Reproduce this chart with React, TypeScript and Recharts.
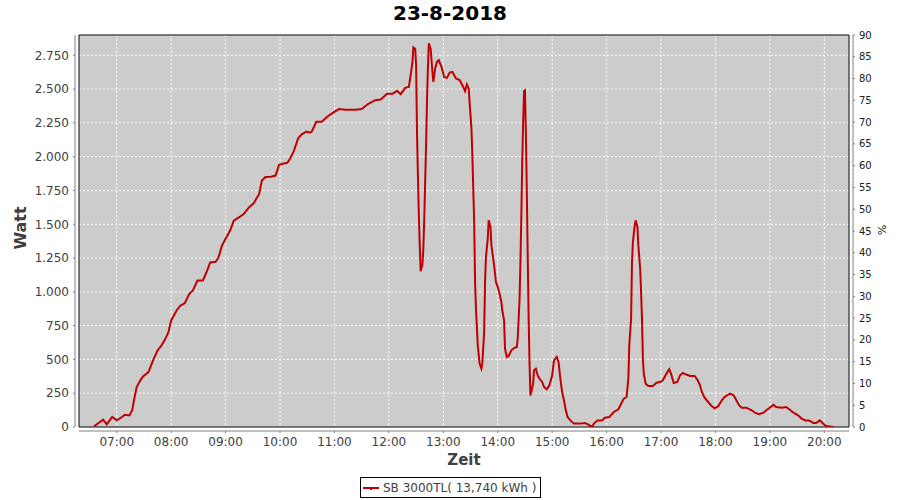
import { LineChart, Line, XAxis, YAxis, CartesianGrid, ReferenceArea } from 'recharts'

// readings of the day, HH:MM and Watt
const times = [
  '06:35', '06:40', '06:45', '06:49', '06:55', '07:00', '07:05', '07:09', '07:14', '07:17',
  '07:19', '07:22', '07:26', '07:29', '07:35', '07:40', '07:45', '07:49', '07:53', '07:57',
  '08:00', '08:06', '08:10', '08:15', '08:20', '08:24', '08:29', '08:35', '08:40', '08:43',
  '08:49', '08:52', '08:56', '09:00', '09:05', '09:09', '09:15', '09:20', '09:26', '09:31',
  '09:37', '09:40', '09:44', '09:50', '09:55', '09:59', '10:03', '10:08', '10:11', '10:15',
  '10:20', '10:24', '10:29', '10:33', '10:35', '10:40', '10:46', '10:52', '10:59', '11:05',
  '11:12', '11:23', '11:30', '11:37', '11:45', '11:51', '11:58', '12:04', '12:09', '12:13',
  '12:18', '12:22', '12:24', '12:26', '12:27', '12:29', '12:30', '12:31', '12:32', '12:33',
  '12:34', '12:35', '12:37', '12:38', '12:39', '12:40', '12:41', '12:42', '12:43', '12:44',
  '12:46', '12:47', '12:48', '12:49', '12:51', '12:53', '12:55', '12:58', '13:01', '13:04',
  '13:07', '13:10', '13:14', '13:18', '13:22', '13:24', '13:26', '13:28', '13:29', '13:31',
  '13:32', '13:33', '13:34', '13:35', '13:36', '13:38', '13:40', '13:42', '13:43', '13:45',
  '13:46', '13:47', '13:49', '13:50', '13:52', '13:53', '13:56', '13:58', '14:00', '14:02',
  '14:04', '14:05', '14:07', '14:08', '14:10', '14:12', '14:15', '14:18', '14:21', '14:22',
  '14:24', '14:25', '14:26', '14:27', '14:28', '14:29', '14:30', '14:31', '14:32', '14:33',
  '14:34', '14:35', '14:36', '14:37', '14:39', '14:40', '14:42', '14:44', '14:46', '14:49',
  '14:51', '14:54', '14:57', '15:00', '15:02', '15:05', '15:07', '15:09', '15:11', '15:13',
  '15:15', '15:17', '15:20', '15:24', '15:31', '15:36', '15:40', '15:44', '15:46', '15:50',
  '15:55', '15:58', '16:03', '16:08', '16:13', '16:17', '16:19', '16:22', '16:24', '16:25',
  '16:27', '16:28', '16:29', '16:31', '16:32', '16:34', '16:35', '16:37', '16:38', '16:39',
  '16:40', '16:41', '16:43', '16:46', '16:51', '16:55', '16:59', '17:02', '17:06', '17:09',
  '17:11', '17:14', '17:18', '17:21', '17:24', '17:27', '17:32', '17:37', '17:40', '17:43',
  '17:45', '17:48', '17:52', '17:56', '17:59', '18:03', '18:07', '18:10', '18:16', '18:20',
  '18:23', '18:26', '18:29', '18:34', '18:40', '18:44', '18:48', '18:53', '18:56', '19:01',
  '19:04', '19:07', '19:13', '19:18', '19:22', '19:26', '19:31', '19:35', '19:39', '19:43',
  '19:48', '19:51', '19:55', '19:58', '20:01', '20:04', '20:10',
]

const watts = [
  5, 30, 54, 20, 74, 50, 70, 91, 86, 123,
  197, 296, 345, 374, 406, 493, 566, 600, 645, 702,
  788, 862, 897, 916, 985, 1010, 1084, 1084, 1163, 1217,
  1222, 1251, 1342, 1392, 1453, 1527, 1552, 1576, 1626, 1655,
  1724, 1823, 1850, 1852, 1860, 1940, 1948, 1955, 1985, 2037,
  2136, 2165, 2185, 2177, 2185, 2258, 2258, 2295, 2327, 2352,
  2347, 2347, 2352, 2389, 2418, 2423, 2465, 2465, 2487, 2462,
  2509, 2516, 2603, 2701, 2809, 2799, 2676, 2172, 1865, 1570,
  1349, 1152, 1201, 1324, 1546, 1816, 2086, 2406, 2652, 2838,
  2799, 2713, 2627, 2553, 2652, 2701, 2713, 2664, 2590, 2583,
  2622, 2627, 2578, 2566, 2516, 2484, 2534, 2504, 2400, 2209,
  2013, 1767, 1521, 1073, 875, 604, 469, 432, 469, 703,
  1073, 1258, 1393, 1529, 1480, 1344, 1196, 1073, 1036, 986,
  925, 863, 789, 580, 518, 525, 567, 584, 592, 653,
  937, 1221, 1566, 1960, 2256, 2486, 2491, 2182, 1763, 1282,
  826, 481, 234, 259, 321, 419, 432, 382, 358, 333,
  296, 279, 308, 382, 493, 518, 481, 358, 259, 197,
  123, 74, 49, 25, 25, 30, 17, 0, 25, 49,
  49, 69, 74, 111, 131, 185, 210, 222, 358, 604,
  801, 1221, 1369, 1492, 1529, 1480, 1344, 1171, 999, 801,
  505, 395, 321, 303, 303, 328, 333, 346, 395, 427,
  395, 326, 333, 383, 400, 390, 378, 378, 351, 309,
  259, 217, 185, 153, 138, 153, 198, 222, 247, 235,
  198, 161, 143, 143, 124, 104, 94, 106, 124, 148,
  165, 148, 143, 148, 128, 106, 86, 62, 49, 49,
  30, 30, 49, 30, 12, 5, 0,
]

const hourTicks = [
  '07:00', '08:00', '09:00', '10:00', '11:00', '12:00', '13:00',
  '14:00', '15:00', '16:00', '17:00', '18:00', '19:00', '20:00',
]
const wattTicks = [0, 250, 500, 750, 1000, 1250, 1500, 1750, 2000, 2250, 2500, 2750]
const pctTicks = [0, 5, 10, 15, 20, 25, 30, 35, 40, 45, 50, 55, 60, 65, 70, 75, 80, 85, 90]

const seriesName = 'SB 3000TL( 13,740 kWh )'

const FONT = '"DejaVu Sans", sans-serif'
const RED = '#c00000'
const X_MIN = 378.4
const X_MAX = 1227.2
const W_MAX = 2900

const toMin = (t: string) => {
  const [h, m] = t.split(':').map(Number)
  return h * 60 + m
}

const fmtTime = (v: number) =>
  `${String(Math.floor(v / 60)).padStart(2, '0')}:${String(v % 60).padStart(2, '0')}`

const fmtWatt = (v: number) =>
  v >= 1000 ? `${Math.floor(v / 1000)}.${String(v % 1000).padStart(3, '0')}` : String(v)

const data = times.map((t, i) => ({ t: toMin(t), w: watts[i] }))

export default function App() {
  return (
    <div style={{ position: 'absolute', left: 0, top: 0, width: 900, height: 500, background: '#fff', fontFamily: FONT }}>
      <div
        style={{
          position: 'absolute', left: 0, top: 1, width: 900, textAlign: 'center',
          fontSize: 20, fontWeight: 'bold', color: '#000', lineHeight: '24px',
        }}
      >
        23-8-2018
      </div>

      <LineChart width={900} height={500} data={data} margin={{ top: 35, right: 0, bottom: 0, left: 0 }}>
        <CartesianGrid
          yAxisId="w"
          fill="#cccccc"
          stroke="#ffffff"
          strokeDasharray="2 2"
        />
        <XAxis
          dataKey="t"
          type="number"
          domain={[X_MIN, X_MAX]}
          ticks={hourTicks.map(toMin)}
          tickFormatter={fmtTime}
          allowDataOverflow
          height={73}
          tickSize={2}
          tickMargin={8}
          axisLine={{ stroke: '#808080', transform: 'translate(0,4)' }}
          tickLine={{ stroke: '#808080', transform: 'translate(0,4)' }}
          tick={{ fill: '#404040', fontSize: 12, fontFamily: FONT }}
          label={() => (
            <text x={464} y={465} textAnchor="middle" fill="#404040" fontSize={15} fontWeight="bold" fontFamily={FONT}>
              Zeit
            </text>
          )}
        />
        <YAxis
          yAxisId="w"
          type="number"
          domain={[0, W_MAX]}
          ticks={wattTicks}
          tickFormatter={fmtWatt}
          allowDataOverflow
          width={79}
          tickSize={2}
          tickMargin={8}
          axisLine={{ stroke: '#808080', transform: 'translate(-4,0)' }}
          tickLine={{ stroke: '#808080', transform: 'translate(-4,0)' }}
          tick={{ fill: '#404040', fontSize: 12, fontFamily: FONT }}
          label={() => (
            <text
              x={26}
              y={228}
              textAnchor="middle"
              transform="rotate(-90 26 228)"
              fill="#404040"
              fontSize={16}
              fontWeight="bold"
              fontFamily={FONT}
            >
              Watt
            </text>
          )}
        />
        <YAxis
          yAxisId="pct"
          orientation="right"
          type="number"
          domain={[0, 90]}
          ticks={pctTicks}
          allowDataOverflow
          width={51}
          tickSize={2}
          tickMargin={8}
          axisLine={{ stroke: '#808080', transform: 'translate(4,0)' }}
          tickLine={{ stroke: '#808080', transform: 'translate(4,0)' }}
          tick={{ fill: '#202020', fontSize: 10, fontFamily: FONT, textAnchor: 'start' }}
          label={() => (
            <text
              x={878}
              y={230}
              textAnchor="middle"
              transform="rotate(90 878 230)"
              fill="#202020"
              fontSize={11}
              fontFamily={FONT}
            >
              %
            </text>
          )}
        />
        <ReferenceArea
          yAxisId="w"
          x1={X_MIN}
          x2={X_MAX}
          y1={0}
          y2={W_MAX}
          fill="none"
          stroke="#000"
          strokeWidth={1}
          ifOverflow="extendDomain"
        />
        <Line
          yAxisId="w"
          dataKey="w"
          type="linear"
          stroke={RED}
          strokeWidth={2}
          dot={false}
          isAnimationActive={false}
        />
      </LineChart>

      <div
        style={{
          position: 'absolute', left: 360, top: 477, width: 179, height: 19,
          border: '1px solid #000', background: '#fff', display: 'flex', alignItems: 'center',
          fontSize: 12, color: '#404040', whiteSpace: 'nowrap',
        }}
      >
        <svg width={18} height={19} style={{ display: 'block', marginLeft: 1 }}>
          <line x1={1} y1={10} x2={17} y2={10} stroke={RED} strokeWidth={2} />
          <rect x={8} y={10} width={2} height={2} fill={RED} />
        </svg>
        <span style={{ marginLeft: 3 }}>{seriesName}</span>
      </div>
    </div>
  )
}
